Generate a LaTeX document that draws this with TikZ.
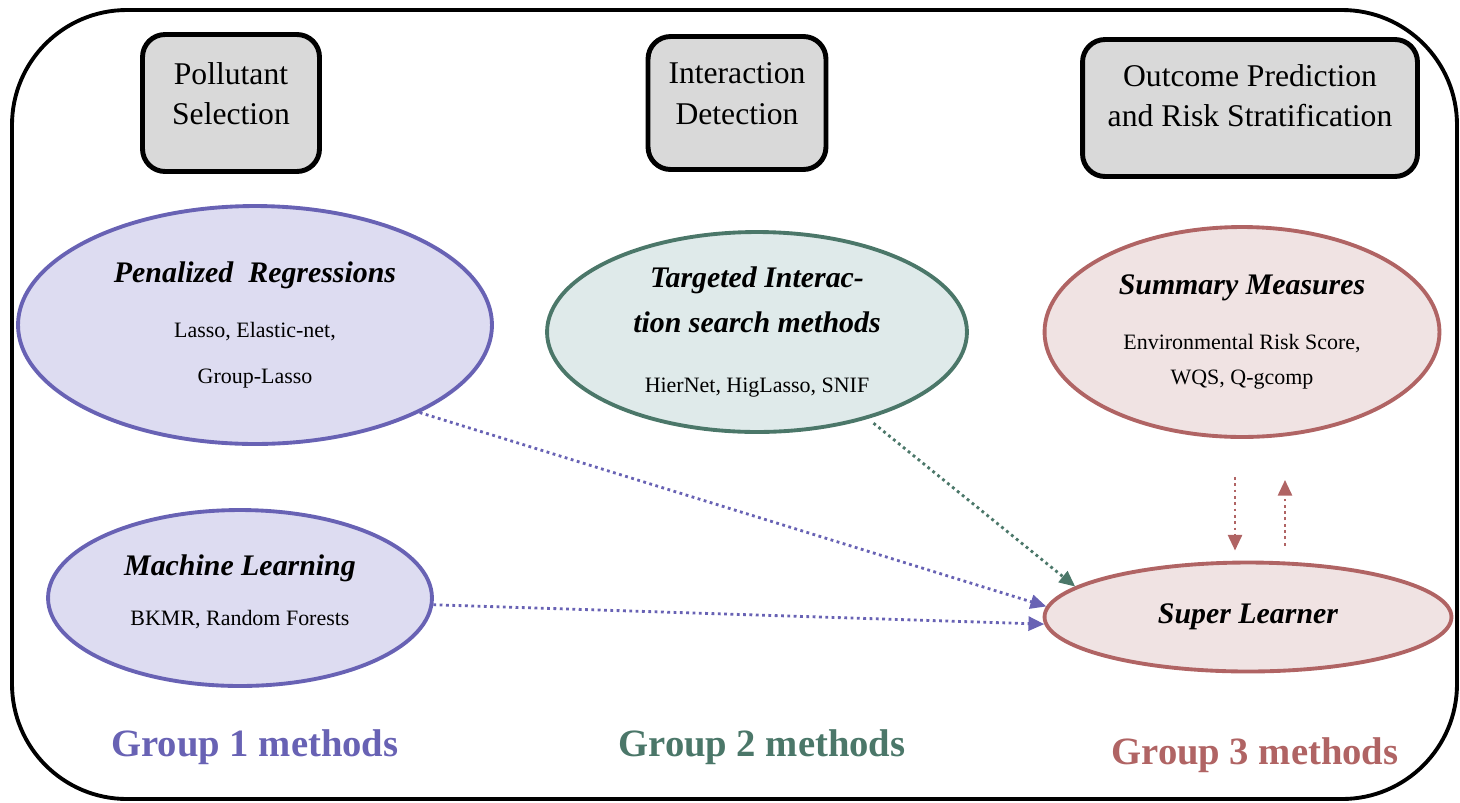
\documentclass[tikz,border=0pt]{standalone}
\usepackage{fontspec}
\setmainfont{Liberation Serif}
\usepackage{tikz}
\usetikzlibrary{arrows.meta}
\usetikzlibrary{shapes.geometric}
\usetikzlibrary{positioning}

\definecolor{boxgray}{HTML}{D9D9D9}
\definecolor{grponeline}{HTML}{6862B4}
\definecolor{grponefill}{HTML}{DDDCF1}
\definecolor{grptwoline}{HTML}{4B7769}
\definecolor{grptwofill}{HTML}{DFEAEA}
\definecolor{grpthreeline}{HTML}{B06464}
\definecolor{grpthreefill}{HTML}{F0E3E3}

\begin{document}
\begin{tikzpicture}[x=0.02cm, y=-0.02cm]
	\useasboundingbox (0,0) rectangle (1460,802);
	\draw[line width=2.2pt, rounded corners=2.3cm] (12,10) rectangle (1457,799);

	\begin{scope}[every node/.style={draw, line width=2.8pt, rounded corners=0.45cm, fill=boxgray, align=center, text depth=11pt, font=\fontsize{18}{23}\selectfont}]
		\node[minimum width=3.54cm, minimum height=2.74cm] (select) at (231,103) {Pollutant\\Selection};
		\node[minimum width=3.56cm, minimum height=2.66cm] (detect) at (737,103) {Interaction\\Detection};
		\node[minimum width=6.7cm, minimum height=2.74cm, text depth=14pt] (predict) at (1250,108) {Outcome Prediction\\and Risk Stratification};
	\end{scope}

	\begin{scope}[every node/.style={ellipse, line width=2.2pt, align=center, inner sep=0pt, font=\fontsize{12.5}{15}\selectfont}]
		\node[draw=grponeline, fill=grponefill, minimum width=9.48cm, minimum height=4.76cm] (penal) at (255,325)
			{{\fontsize{17}{20}\selectfont\bfseries\itshape Penalized\ \ Regressions}\\[16pt] Lasso, Elastic-net,\\[11pt] Group-Lasso};
		\node[draw=grponeline, fill=grponefill, minimum width=7.68cm, minimum height=3.52cm] (ml) at (240,598)
			{{\fontsize{17}{20}\selectfont\bfseries\itshape Machine Learning}\\[13pt] BKMR, Random Forests\\[-6pt]\mbox{}};
		\node[draw=grptwoline, fill=grptwofill, minimum width=8.4cm, minimum height=4.0cm] (target) at (757,332)
			{{\fontsize{17}{20}\selectfont\bfseries\itshape Targeted Interac-}\\[9pt]{\fontsize{17}{20}\selectfont\bfseries\itshape tion search methods}\\[19pt] HierNet, HigLasso, SNIF};
		\node[draw=grpthreeline, fill=grpthreefill, minimum width=7.9cm, minimum height=4.2cm] (summary) at (1242,332)
			{{\fontsize{17}{20}\selectfont\bfseries\itshape Summary Measures}\\[16pt] Environmental Risk Score,\\[5pt] WQS, Q-gcomp};
		\node[draw=grpthreeline, fill=grpthreefill, minimum width=8.14cm, minimum height=2.18cm] (super) at (1248,617)
			{{\fontsize{17}{20}\selectfont\bfseries\itshape Super Learner}};
	\end{scope}

	\begin{scope}[every node/.style={font=\fontsize{22}{26}\selectfont\bfseries}]
		\node[text=grponeline] (grp1) at (255,747) {Group 1 methods};
		\node[text=grptwoline] (grp2) at (762,747) {Group 2 methods};
		\node[text=grpthreeline] (grp3) at (1255,755) {Group 3 methods};
	\end{scope}

	\begin{scope}[>={Triangle[length=9pt, width=8pt]},
	              every edge/.style={draw, dotted, line width=1.6pt}]
		\path (penal.-28) edge[->, grponeline] (super.177);
		\path (ml.-2) edge[->, grponeline] (super.182);
		\path (target.-38) edge[->, grptwoline, shorten <=4pt] (super.170);
		\path ([xshift=-0.14cm]summary.south) edge[->, grpthreeline, shorten <=0.76cm, shorten >=0.2cm] ([xshift=-0.14cm]summary.south |- super.north);
		\path ([xshift=0.86cm]summary.south |- super.north) edge[->, grpthreeline, shorten <=0.3cm, shorten >=0.82cm] ([xshift=0.86cm]summary.south);
	\end{scope}
\end{tikzpicture}
\end{document}
